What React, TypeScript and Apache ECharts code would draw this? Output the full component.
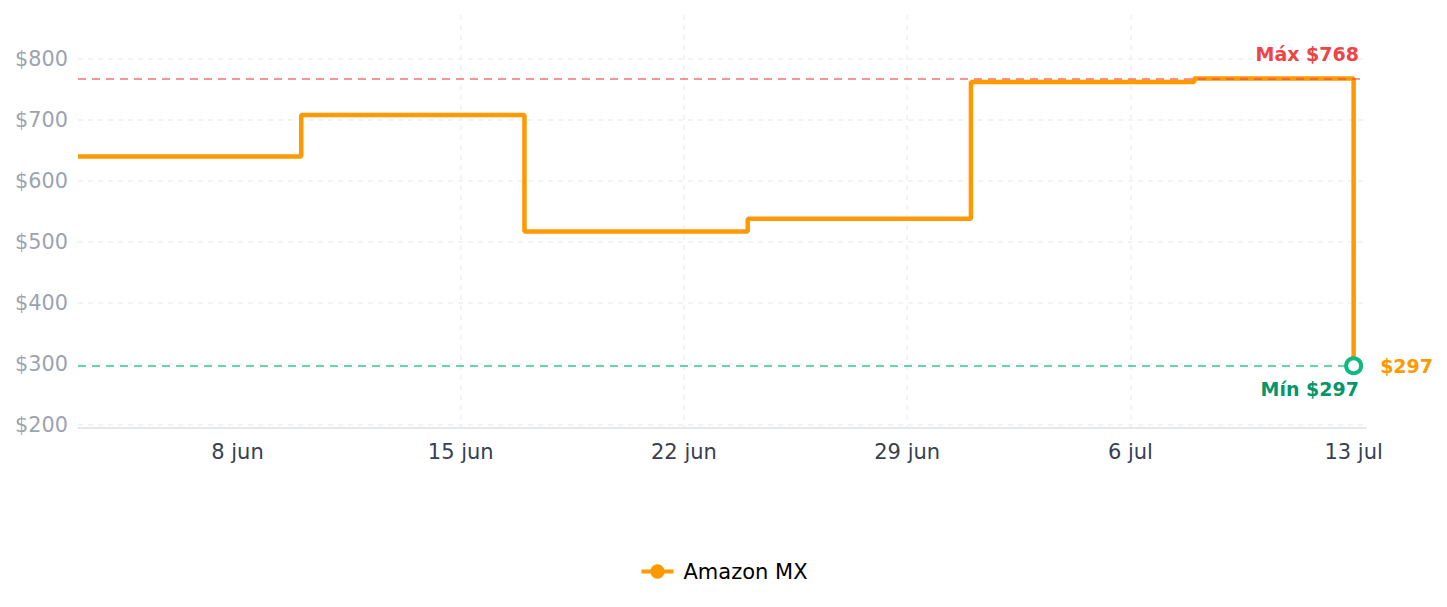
import React, { useEffect, useRef } from "react";
import * as echarts from "echarts";

const dates = ["2023-06-03", "2023-06-10", "2023-06-17", "2023-06-24", "2023-07-01", "2023-07-08", "2023-07-13"];
const prices = [640, 708, 517, 538, 762, 768, 297];
const tickDates = ["2023-06-08", "2023-06-15", "2023-06-22", "2023-06-29", "2023-07-06", "2023-07-13"];
const monthNames = ["ene", "feb", "mar", "abr", "may", "jun", "jul", "ago", "sep", "oct", "nov", "dic"];
const seriesName = "Amazon MX";
const maxPrice = 768;
const minPrice = 297;
const yMin = 195;
const yMax = 872;

function toTime(s: string) {
  const [y, m, d] = s.split("-").map(Number);
  return new Date(y, m - 1, d).getTime();
}

export default function App() {
  const ref = useRef<HTMLDivElement>(null);
  useEffect(() => {
    if (!ref.current) return;
    document.body.style.margin = "0";
    const chart = echarts.init(ref.current, null, { renderer: "svg" });
    const times = dates.map(toTime);
    const data = times.map((t, i) => [t, prices[i]]);
    const first = times[0];
    const last = times[times.length - 1];
    const xMax = last + (last - first) * 0.0097;
    const ticks = tickDates.map(toTime);
    const extraLabel = last + 2 * 3600 * 1000;
    chart.setOption({
      animation: false,
      textStyle: { fontFamily: "DejaVu Sans" },
      grid: { left: 78, right: 81, top: 15, bottom: 179 },
      legend: {
        bottom: 20,
        itemWidth: 32,
        itemHeight: 18,
        lineStyle: { width: 4 },
        textStyle: { fontSize: 21, color: "#000", padding: [0, 0, 0, 5] },
        data: [seriesName],
      },
      xAxis: {
        type: "value",
        min: first,
        max: xMax,
        axisLine: { lineStyle: { color: "#e5e7eb", width: 2 } },
        axisTick: { show: false, customValues: ticks },
        splitLine: {
          show: true,
          showMinLine: false,
          showMaxLine: false,
          lineStyle: { color: "#eef0f3", type: [5, 5], width: 1.6 },
        },
        axisLabel: {
          color: "#374151",
          fontSize: 21,
          margin: 13,
          hideOverlap: false,
          customValues: [...ticks, extraLabel],
          formatter: (v: number) => {
            const d = new Date(v);
            return `${d.getDate()} ${monthNames[d.getMonth()]}`;
          },
        },
      },
      yAxis: {
        type: "value",
        min: yMin,
        max: yMax,
        axisLine: { show: false },
        axisTick: { show: false },
        splitLine: {
          showMaxLine: false,
          lineStyle: { color: "#eef0f3", type: [5, 5], width: 1.6 },
        },
        axisLabel: {
          color: "#9ca3af",
          fontSize: 20.8,
          margin: 10,
          showMaxLabel: false,
          showMinLabel: false,
          formatter: (v: number) => "$" + v,
        },
      },
      series: [
        {
          name: seriesName,
          type: "line",
          step: "end",
          data,
          symbol: "circle",
          symbolSize: 12,
          showSymbol: false,
          color: "#FF9900",
          lineStyle: { width: 4.5, color: "#FF9900" },
          markLine: {
            silent: true,
            symbol: "none",
            data: [
              {
                yAxis: maxPrice,
                lineStyle: { color: "rgba(239,68,68,0.75)", type: [8, 6], width: 1.6 },
                label: {
                  position: "insideEndTop",
                  formatter: "Máx $" + maxPrice,
                  color: "#ef4444",
                  fontWeight: "bold",
                  fontSize: 19,
                  distance: [7, 15],
                },
              },
              {
                yAxis: minPrice,
                lineStyle: { color: "rgba(16,185,129,0.85)", type: [8, 6], width: 1.6 },
                label: {
                  position: "insideEndBottom",
                  formatter: "Mín $" + minPrice,
                  color: "#059669",
                  fontWeight: "bold",
                  fontSize: 19,
                  distance: [7, 14],
                },
              },
            ],
          },
          markPoint: {
            silent: true,
            data: [
              {
                coord: [last, prices[prices.length - 1]],
                symbol: "circle",
                symbolSize: 15,
                itemStyle: { color: "#ffffff", borderColor: "#10b981", borderWidth: 4 },
                label: {
                  show: true,
                  position: "right",
                  distance: 17,
                  formatter: "$" + prices[prices.length - 1],
                  color: "#FF9900",
                  fontWeight: "bold",
                  fontSize: 19,
                },
              },
            ],
          },
        },
      ],
    });
    return () => chart.dispose();
  }, []);
  return <div ref={ref} style={{ width: 1447, height: 607 }} />;
}
